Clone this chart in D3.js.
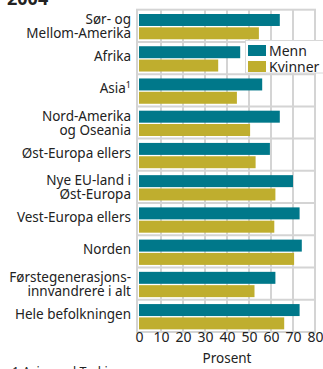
<!DOCTYPE html>
<html>
<head>
<meta charset="utf-8">
<script src="https://cdn.jsdelivr.net/npm/d3@7"></script>
<style>
  html, body { margin: 0; padding: 0; background: #fff; }
  svg { display: block; font-family: "Noto Sans", "Open Sans", sans-serif; }
</style>
</head>
<body>
<svg id="chart" width="323" height="369"></svg>
<script>
// Region of birth (lines of each label), employment share in percent, 2004
const categories = [
  ["Sør- og", "Mellom-Amerika"],
  ["Afrika"],
  ["Asia"],
  ["Nord-Amerika", "og Oseania"],
  ["Øst-Europa ellers"],
  ["Nye EU-land i", "Øst-Europa"],
  ["Vest-Europa ellers"],
  ["Norden"],
  ["Førstegenerasjons-", "innvandrere i alt"],
  ["Hele befolkningen"]
];
const menn    = [64, 46, 56, 64, 59.5, 70, 73, 74, 62, 73];
const kvinner = [54.5, 36, 44.5, 50.5, 53, 62, 61.5, 70.5, 52.5, 66];
const series = ["Menn", "Kvinner"];
const colors = ["#00788a", "#bfae2e"];
const ticks = [0, 10, 20, 30, 40, 50, 60, 70, 80];

const svg = d3.select("#chart");
const gridColor = "#d4d4d4";
const textColor = "#222";

const x = d3.scaleLinear().domain([0, 80]).range([139, 315]);
const keys = categories.map((c, i) => i);
const y = d3.scaleBand().domain(keys).range([9.7, 332]);
const ySub = d3.scaleBand().domain(series).range([4.3, 29.6]).paddingInner(0.1);

// plot frame and grid
const grid = svg.append("g");
grid.append("rect")
  .attr("x", 137).attr("y", y.range()[0])
  .attr("width", x(80) - 137).attr("height", y.range()[1] - y.range()[0])
  .attr("fill", "#fff").attr("stroke", gridColor).attr("stroke-width", 2);
grid.selectAll("line.v").data(ticks.filter(t => t > 0 && t < 80)).join("line")
  .attr("x1", d => x(d)).attr("x2", d => x(d))
  .attr("y1", y.range()[0]).attr("y2", y.range()[1])
  .attr("stroke", gridColor).attr("stroke-width", 2);
grid.selectAll("line.h").data(keys.slice(1)).join("line")
  .attr("x1", 137).attr("x2", x(80))
  .attr("y1", d => y(d)).attr("y2", d => y(d))
  .attr("stroke", gridColor).attr("stroke-width", 2);

// bars
const rows = keys.map(i => ({ i, values: [menn[i], kvinner[i]] }));
const groups = svg.append("g").selectAll("g").data(rows).join("g")
  .attr("transform", d => `translate(0,${y(d.i)})`);
groups.selectAll("rect").data(d => d.values.map((v, k) => ({ v, k })))
  .join("rect")
  .attr("x", x(0))
  .attr("y", d => ySub(series[d.k]))
  .attr("width", d => x(d.v) - x(0))
  .attr("height", ySub.bandwidth())
  .attr("fill", d => colors[d.k]);

// category labels
const labels = svg.append("g")
  .attr("font-size", 13.5).attr("fill", textColor).attr("text-anchor", "end");
categories.forEach((lines, i) => {
  const c = y(i) + y.bandwidth() / 2;
  const t = labels.append("text").attr("x", 131);
  if (lines.length === 1) {
    t.attr("y", c + 3).text(lines[0]);
    if (i === 2) {
      t.append("tspan").attr("font-size", 9).attr("dy", -5).text("1");
    }
  } else {
    t.append("tspan").attr("x", 131).attr("y", c - 1.5).text(lines[0]);
    t.append("tspan").attr("x", 131).attr("y", c + 12.5).text(lines[1]);
  }
});

// x axis
const xAxis = d3.axisBottom(x).tickValues(ticks).tickSize(0).tickPadding(0);
const ax = svg.append("g").attr("transform", "translate(0,342)").call(xAxis);
ax.select(".domain").remove();
ax.selectAll("text")
  .attr("dy", 0).attr("font-size", 14).attr("fill", textColor)
  .attr("font-family", "Noto Sans, Open Sans, sans-serif");

svg.append("text")
  .attr("x", x(40)).attr("y", 363).attr("text-anchor", "middle")
  .attr("font-size", 13.5).attr("fill", textColor).text("Prosent");

// legend
const lg = svg.append("g");
lg.append("rect").attr("x", 245.5).attr("y", 40.5).attr("width", 80).attr("height", 32.5)
  .attr("fill", "#fff").attr("stroke", "#d8d8d8");
series.forEach((s, k) => {
  lg.append("rect").attr("x", 248).attr("y", 45 + k * 16).attr("width", 18).attr("height", 11)
    .attr("fill", colors[k]);
  lg.append("text").attr("x", 269).attr("y", 56 + k * 16)
    .attr("font-size", 14).attr("fill", textColor).text(s);
});

// title and footnote
svg.append("text").attr("x", 7).attr("y", 5)
  .attr("font-size", 18).attr("font-weight", "bold").attr("fill", textColor).text("2004");
svg.append("text").attr("x", 12).attr("y", 376)
  .attr("font-size", 12.5).attr("fill", textColor).text("1 Asia med Tyrkia");
</script>
</body>
</html>
